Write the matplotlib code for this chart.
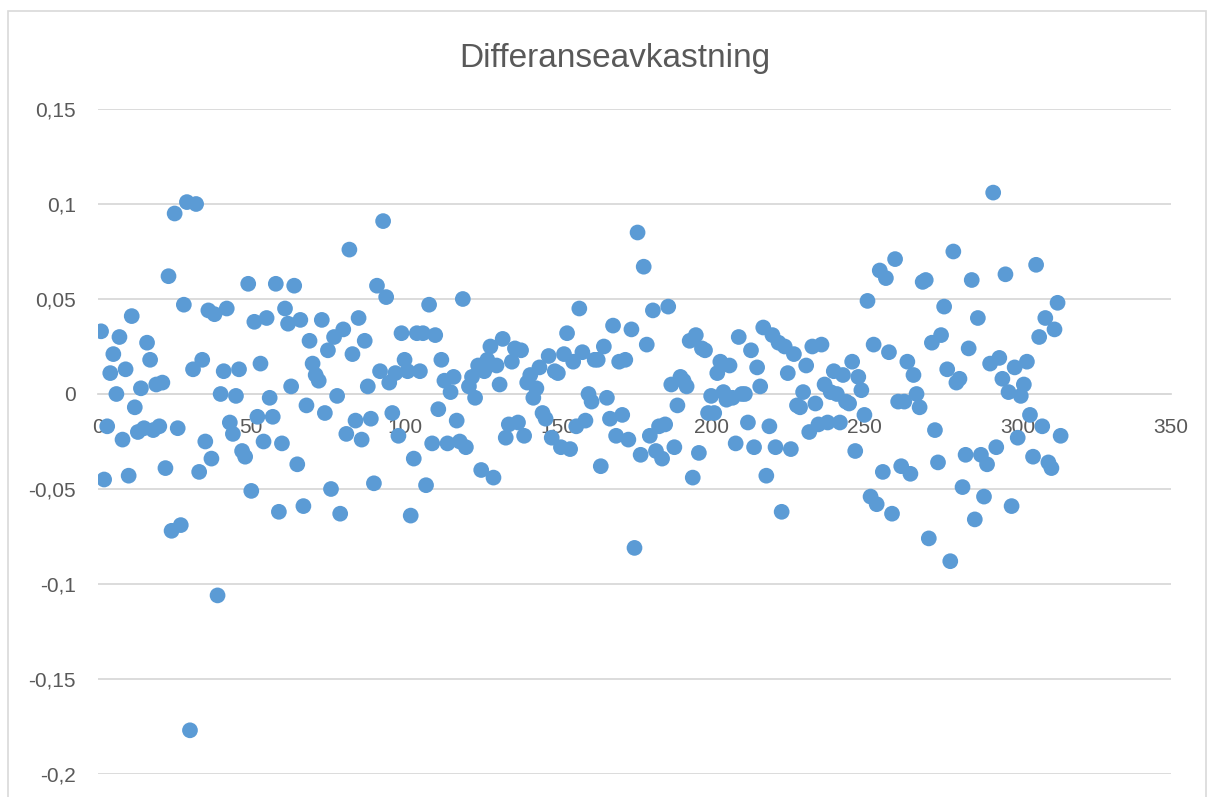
import matplotlib
matplotlib.use("Agg")
import matplotlib.pyplot as plt
from matplotlib.patches import Rectangle
import numpy as np

# Differanseavkastning, en verdi per observasjon (1..314)
avkastning = [
    0.033, -0.045, -0.017, 0.011, 0.021, 0.000, 0.030, -0.024, 0.013, -0.043,
    0.041, -0.007, -0.020, 0.003, -0.018, 0.027, 0.018, -0.019, 0.005, -0.017,
    0.006, -0.039, 0.062, -0.072, 0.095, -0.018, -0.069, 0.047, 0.101, -0.177,
    0.013, 0.100, -0.041, 0.018, -0.025, 0.044, -0.034, 0.042, -0.106, 0.000,
    0.012, 0.045, -0.015, -0.021, -0.001, 0.013, -0.030, -0.033,
    # 49-104
    0.058, -0.051, 0.038, -0.012, 0.016, -0.025, 0.040, -0.002, -0.012, 0.058,
    -0.062, -0.026, 0.045, 0.037, 0.004, 0.057, -0.037, 0.039, -0.059, -0.006,
    0.028, 0.016, 0.010, 0.007, 0.039, -0.010, 0.023, -0.050, 0.030, -0.001,
    -0.063, 0.034, -0.021, 0.076, 0.021, -0.014, 0.040, -0.024, 0.028, 0.004,
    -0.013, -0.047, 0.057, 0.012, 0.091, 0.051, 0.006, -0.010, 0.011, -0.022,
    0.032, 0.018, 0.012, -0.064, -0.034, 0.032,
    # 105-159
    0.012, 0.032, -0.048, 0.047, -0.026, 0.031, -0.008, 0.018, 0.007, -0.026,
    0.001, 0.009, -0.014, -0.025, 0.050, -0.028, 0.004, 0.009, -0.002, 0.015,
    -0.040, 0.012, 0.018, 0.025, -0.044, 0.015, 0.005, 0.029, -0.023, -0.016,
    0.017, 0.024, -0.015, 0.023, -0.022, 0.006, 0.010, -0.002, 0.003, 0.014,
    -0.010, -0.013, 0.020, -0.023, 0.012, 0.011, -0.028, 0.021, 0.032, -0.029,
    0.017, -0.017, 0.045, 0.022, -0.014,
    # 160-217
    0.000, -0.004, 0.018, 0.018, -0.038, 0.025, -0.002, -0.013, 0.036, -0.022,
    0.017, -0.011, 0.018, -0.024, 0.034, -0.081, 0.085, -0.032, 0.067, 0.026,
    -0.022, 0.044, -0.030, -0.017, -0.034, -0.016, 0.046, 0.005, -0.028, -0.006,
    0.009, 0.007, 0.004, 0.028, -0.044, 0.031, -0.031, 0.024, 0.023, -0.010,
    -0.001, -0.010, 0.011, 0.017, 0.001, -0.003, 0.015, -0.002, -0.026, 0.030,
    0.000, 0.000, -0.015, 0.023, -0.028, 0.014, 0.004, 0.035,
    # 218-268
    -0.043, -0.017, 0.031, -0.028, 0.027, -0.062, 0.025, 0.011, -0.029, 0.021,
    -0.006, -0.007, 0.001, 0.015, -0.020, 0.025, -0.005, -0.016, 0.026, 0.005,
    -0.015, 0.001, 0.012, 0.000, -0.015, 0.010, -0.004, -0.005, 0.017, -0.030,
    0.009, 0.002, -0.011, 0.049, -0.054, 0.026, -0.058, 0.065, -0.041, 0.061,
    0.022, -0.063, 0.071, -0.004, -0.038, -0.004, 0.017, -0.042, 0.010, 0.000,
    -0.007,
    # 269-314
    0.059, 0.060, -0.076, 0.027, -0.019, -0.036, 0.031, 0.046, 0.013, -0.088,
    0.075, 0.006, 0.008, -0.049, -0.032, 0.024, 0.060, -0.066, 0.040, -0.032,
    -0.054, -0.037, 0.016, 0.106, -0.028, 0.019, 0.008, 0.063, 0.001, -0.059,
    0.014, -0.023, -0.001, 0.005, 0.017, -0.011, -0.033, 0.068, 0.030, -0.017,
    0.040, -0.036, -0.039, 0.034, 0.048, -0.022,
]
observasjon = np.arange(1, len(avkastning) + 1)

y_ticks = [-0.2, -0.15, -0.1, -0.05, 0, 0.05, 0.1, 0.15]
y_labels = ['-0,2', '-0,15', '-0,1', '-0,05', '0', '0,05', '0,1', '0,15']
x_ticks = [0, 50, 100, 150, 200, 250, 300, 350]

tekstfarge = '#595959'
linjefarge = '#d9d9d9'

fig = plt.figure(figsize=(12.14, 7.97), dpi=100)
ax = fig.add_axes([98 / 1214, 23 / 797, (1171 - 98) / 1214, (774 - 109) / 797])

# ramme rundt diagrammet
fig.patches.append(Rectangle((8 / 1214, -0.05), (1206 - 8) / 1214, 0.05 + (797 - 11) / 797,
                             transform=fig.transFigure, fill=False,
                             edgecolor=linjefarge, linewidth=1.2))

ax.scatter(observasjon, avkastning, s=128, color='#5b9bd5', edgecolors='none', zorder=3)

ax.set_xlim(0, 350)
ax.set_ylim(-0.2, 0.15)
ax.set_yticks(y_ticks)
ax.set_yticklabels(y_labels)
ax.set_xticks(x_ticks)
ax.set_xticklabels([str(v) for v in x_ticks])

ax.grid(axis='y', color=linjefarge, linewidth=1.3)
ax.set_axisbelow(True)
for side in ['top', 'right', 'left']:
    ax.spines[side].set_visible(False)
ax.spines['bottom'].set_position(('data', 0))
ax.spines['bottom'].set_color(linjefarge)
ax.spines['bottom'].set_linewidth(1.3)

ax.tick_params(axis='both', length=0, labelsize=15, labelcolor=tekstfarge)
ax.tick_params(axis='y', pad=16)
ax.tick_params(axis='x', pad=17)
for lab in ax.get_xticklabels() + ax.get_yticklabels():
    lab.set_family('Liberation Sans')

fig.text(0.5066, (797 - 59) / 797, 'Differanseavkastning', ha='center', va='center',
         fontsize=24, color=tekstfarge, family='Liberation Sans')

fig.savefig('out.png', dpi=100)
